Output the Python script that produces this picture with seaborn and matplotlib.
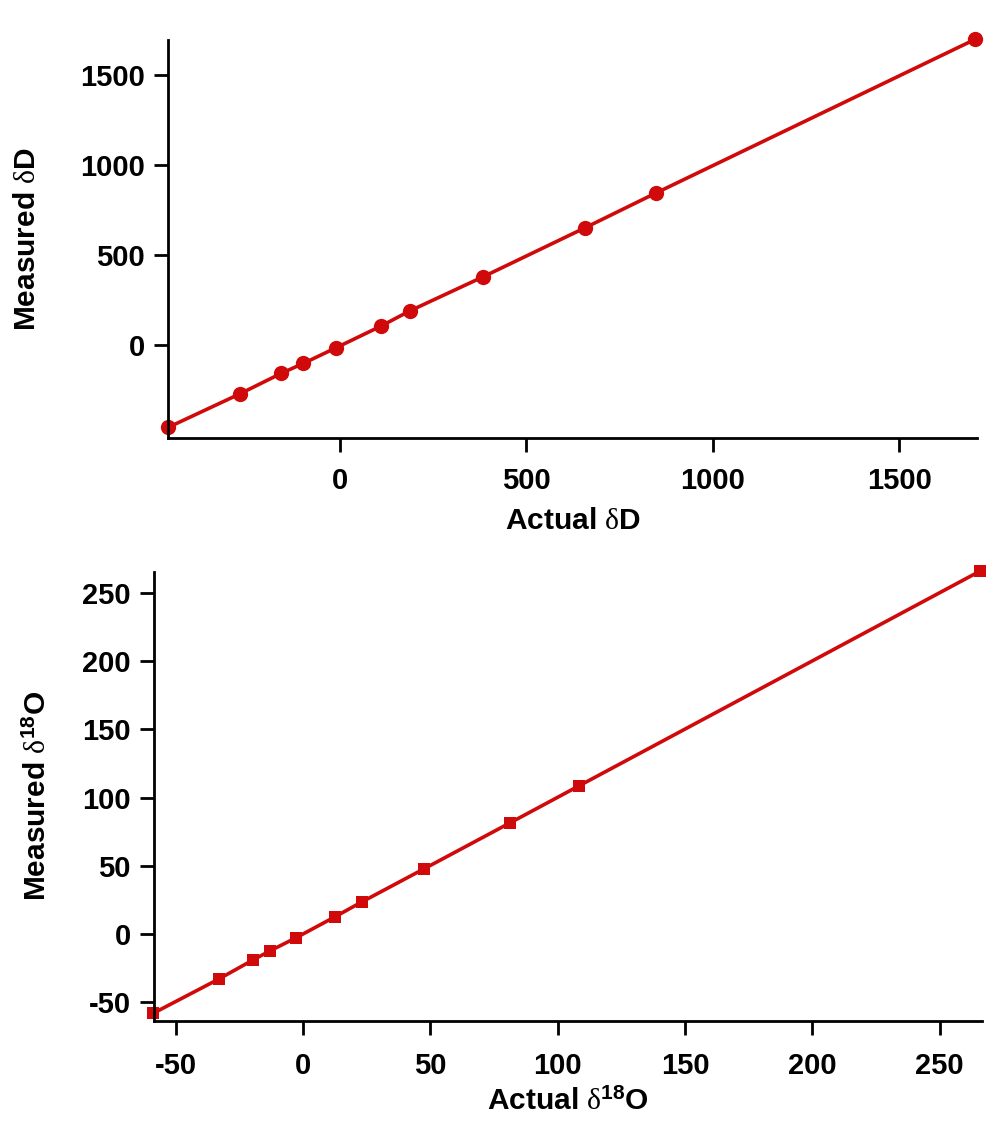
import matplotlib
matplotlib.use("Agg")
import matplotlib.pyplot as plt
import seaborn as sns
import pandas as pd

# ---- data ----
actual_dD = [-459, -268, -156, -97, -9, 110, 188, 384, 657, 848, 1704]
measured_dD = [-457, -272, -157, -102, -15, 104, 189, 378, 650, 844, 1698]

actual_d18O = [-58.9, -33.1, -19.8, -13.1, -2.9, 12.4, 23.0, 47.4, 81.2, 108.3, 265.8]
measured_d18O = [-58.6, -33.4, -19.5, -12.8, -3.2, 12.2, 23.2, 47.5, 81.3, 108.5, 266.3]

top_xticks = [0, 500, 1000, 1500]
top_yticks = [0, 500, 1000, 1500]
bot_xticks = [-50, 0, 50, 100, 150, 200, 250]
bot_yticks = [-50, 0, 50, 100, 150, 200, 250]

sns.set_style("white")
plt.rcParams['font.family'] = ['Liberation Sans', 'DejaVu Sans']
plt.rcParams['axes.unicode_minus'] = False
plt.rcParams['mathtext.fontset'] = 'custom'
plt.rcParams['mathtext.rm'] = 'Liberation Serif:weight=normal'
plt.rcParams['mathtext.it'] = 'Liberation Serif:italic:weight=normal'
plt.rcParams['mathtext.bf'] = 'Liberation Sans:bold'
plt.rcParams['text.color'] = 'black'
plt.rcParams['axes.labelcolor'] = 'black'
plt.rcParams['xtick.color'] = 'black'
plt.rcParams['ytick.color'] = 'black'

RED = '#D00A0A'
W, H = 1000, 1121
fig = plt.figure(figsize=(W / 100, H / 100), dpi=100)
fig.patch.set_facecolor('white')

def rect(l, r, t, b):
    return [l / W, 1 - b / H, (r - l) / W, (b - t) / H]

ax1 = fig.add_axes(rect(168.3, 976.7, 40, 438.3))
ax2 = fig.add_axes(rect(154.3, 982, 571.7, 1021))

df1 = pd.DataFrame({'a': actual_dD, 'm': measured_dD})
df2 = pd.DataFrame({'a': actual_d18O, 'm': measured_d18O})

sns.lineplot(data=df1, x='a', y='m', ax=ax1, color=RED, linewidth=2.6,
             marker='o', markersize=11, markeredgewidth=0, clip_on=False)
sns.lineplot(data=df2, x='a', y='m', ax=ax2, color=RED, linewidth=2.6,
             marker='s', markersize=8, markeredgewidth=0, clip_on=False)

ax1.set_xlim(-459, 1708)
ax1.set_ylim(-518, 1694)
ax2.set_xlim(-58.4, 266.6)
ax2.set_ylim(-64.2, 265.9)

ax1.set_xticks(top_xticks)
ax1.set_yticks(top_yticks)
ax2.set_xticks(bot_xticks)
ax2.set_yticks(bot_yticks)

for ax in (ax1, ax2):
    ax.set_facecolor('white')
    for s in ('top', 'right'):
        ax.spines[s].set_visible(False)
    for s in ('left', 'bottom'):
        ax.spines[s].set_color('black')
        ax.spines[s].set_linewidth(2)
    ax.tick_params(axis='both', direction='out', length=10, width=2,
                   color='black', labelcolor='black', labelsize=21,
                   left=True, bottom=True)
    ax.tick_params(axis='y', pad=7)
    for lab in ax.get_xticklabels() + ax.get_yticklabels():
        lab.set_fontweight('bold')

ax1.tick_params(axis='x', pad=11)
ax2.tick_params(axis='x', pad=12)

ax1.set_xlabel(r'Actual $\mathrm{\delta}$D', fontsize=21.5, fontweight='bold', labelpad=8)
ax1.set_ylabel(r'Measured $\mathrm{\delta}$D', fontsize=21.5, fontweight='bold', labelpad=28)
ax2.set_xlabel(r'Actual $\mathrm{\delta}^{\mathbf{18}}$O', fontsize=21.5, fontweight='bold', labelpad=6)
ax2.set_ylabel(r'Measured $\mathrm{\delta}^{\mathbf{18}}$O', fontsize=21.5, fontweight='bold', labelpad=22)

fig.savefig('out.png', dpi=100, facecolor='white')
